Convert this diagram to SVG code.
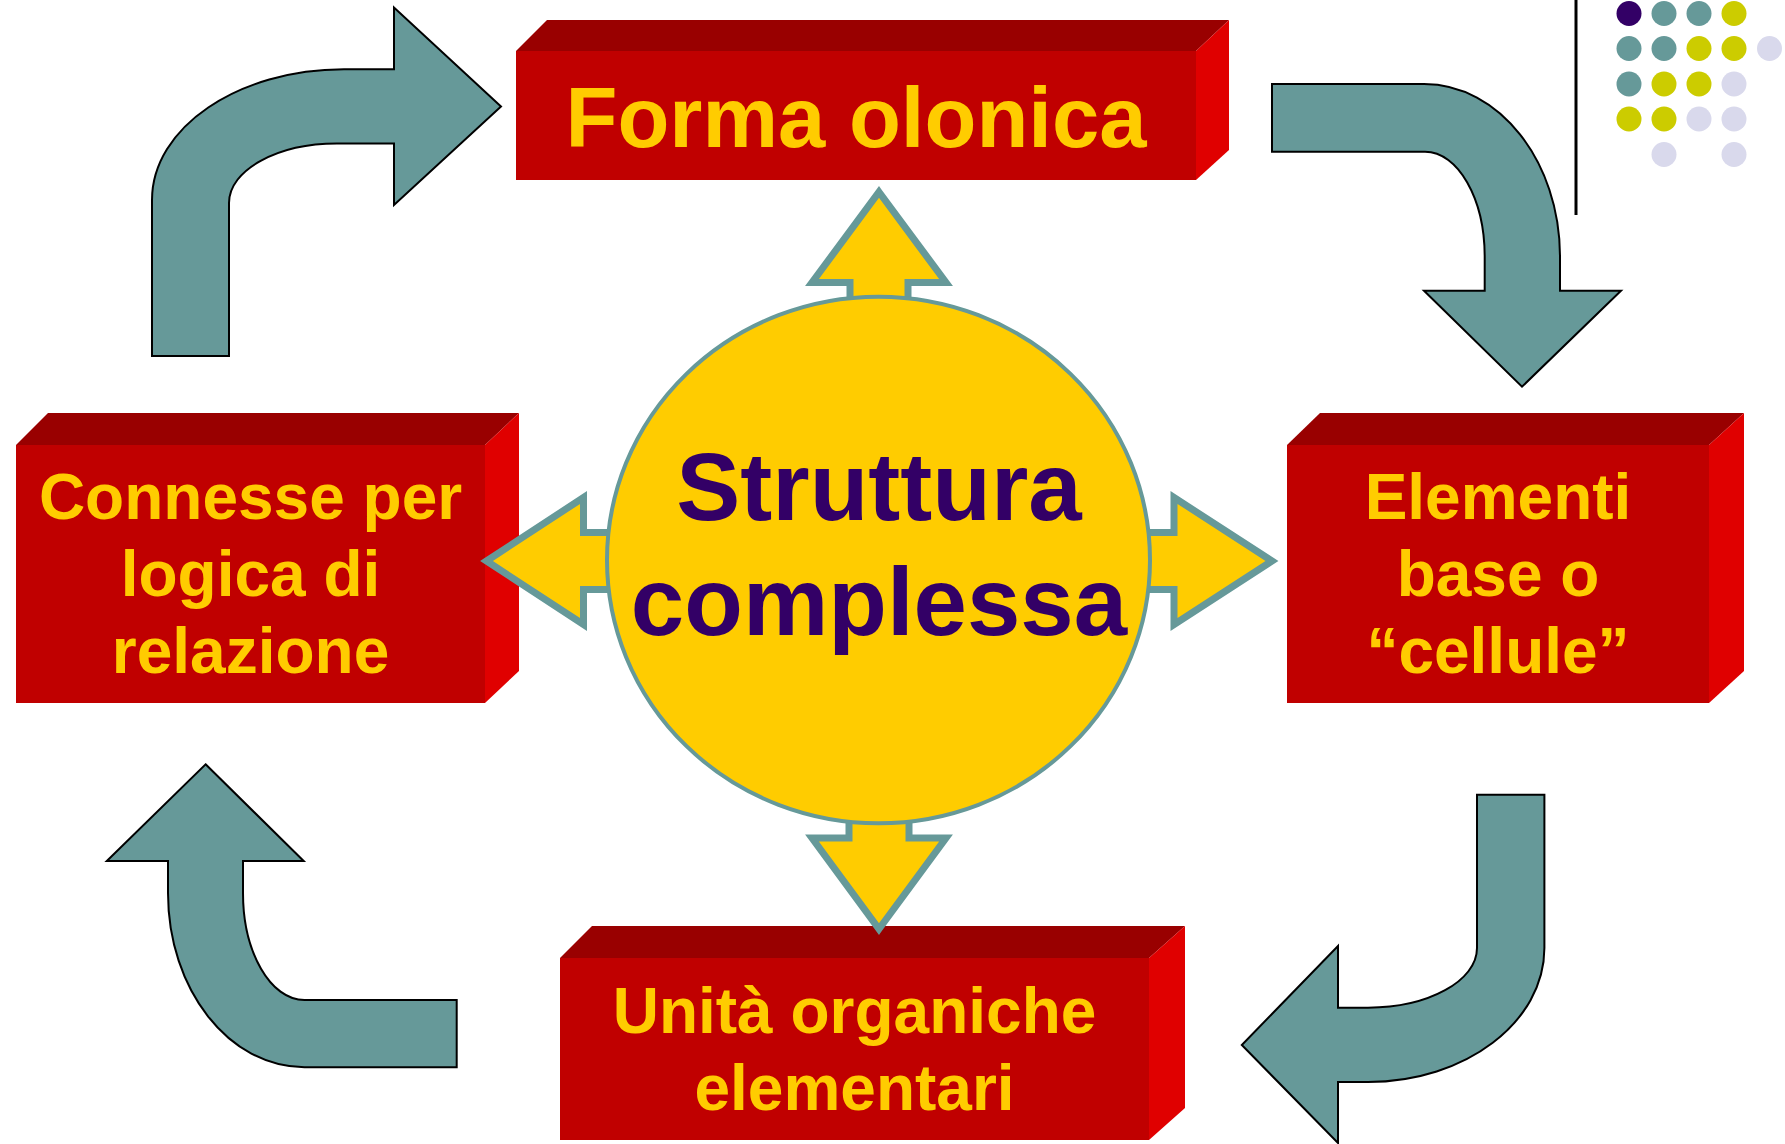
<svg xmlns="http://www.w3.org/2000/svg" width="1785" height="1144" viewBox="0 0 1785 1144">
<style>
.front{fill:#C00000}
.top{fill:#990000}
.side{fill:#E00000}
.lbl{font-family:"Liberation Sans",Arial,sans-serif;font-weight:bold;fill:#FFCC00;text-anchor:middle}
.ctr{font-family:"Liberation Sans",Arial,sans-serif;font-weight:bold;fill:#330066;text-anchor:middle;font-size:96px}
.bent{fill:#669999;stroke:#000;stroke-width:2;stroke-linejoin:miter}
.yarr{fill:#FFCC00;stroke:#669999;stroke-width:7;stroke-linejoin:miter}
</style>
<rect width="1785" height="1144" fill="#fff"/>

<g id="decor">
<line x1="1576" y1="0" x2="1576" y2="215" stroke="#000" stroke-width="3"/>
<g id="dots">
<circle cx="1629" cy="13.5" r="12.5" fill="#330066"/>
<circle cx="1664" cy="13.5" r="12.5" fill="#669999"/>
<circle cx="1699" cy="13.5" r="12.5" fill="#669999"/>
<circle cx="1734" cy="13.5" r="12.5" fill="#CCCC00"/>
<circle cx="1629" cy="48.5" r="12.5" fill="#669999"/>
<circle cx="1664" cy="48.5" r="12.5" fill="#669999"/>
<circle cx="1699" cy="48.5" r="12.5" fill="#CCCC00"/>
<circle cx="1734" cy="48.5" r="12.5" fill="#CCCC00"/>
<circle cx="1769.5" cy="48.5" r="12.5" fill="#D9D9EC"/>
<circle cx="1629" cy="84" r="12.5" fill="#669999"/>
<circle cx="1664" cy="84" r="12.5" fill="#CCCC00"/>
<circle cx="1699" cy="84" r="12.5" fill="#CCCC00"/>
<circle cx="1734" cy="84" r="12.5" fill="#D9D9EC"/>
<circle cx="1629" cy="119" r="12.5" fill="#CCCC00"/>
<circle cx="1664" cy="119" r="12.5" fill="#CCCC00"/>
<circle cx="1699" cy="119" r="12.5" fill="#D9D9EC"/>
<circle cx="1734" cy="119" r="12.5" fill="#D9D9EC"/>
<circle cx="1664" cy="154.5" r="12.5" fill="#D9D9EC"/>
<circle cx="1734" cy="154.5" r="12.5" fill="#D9D9EC"/>
</g>
</g>

<g id="forma">
<polygon class="top" points="516,51 547,20 1229,20 1196,51"/>
<polygon class="side" points="1196,51 1229,20 1229,150 1196,180"/>
<rect class="front" x="516" y="51" width="680" height="129"/>
<text class="lbl" x="856" y="147" font-size="85">Forma olonica</text>
</g>

<g id="connesse">
<polygon class="top" points="16,445 48,413 519,413 485,445"/>
<polygon class="side" points="485,445 519,413 519,671 485,703"/>
<rect class="front" x="16" y="445" width="469" height="258"/>
<text class="lbl" font-size="64"><tspan x="250.5" y="519">Connesse per</tspan><tspan x="250.5" y="596">logica di</tspan><tspan x="250.5" y="673">relazione</tspan></text>
</g>

<g id="elementi">
<polygon class="top" points="1287,445 1320,413 1744,413 1709,445"/>
<polygon class="side" points="1709,445 1744,413 1744,671 1709,703"/>
<rect class="front" x="1287" y="445" width="422" height="258"/>
<text class="lbl" font-size="64"><tspan x="1498" y="519">Elementi</tspan><tspan x="1498" y="596">base o</tspan><tspan x="1498" y="673">“cellule”</tspan></text>
</g>

<g id="unita">
<polygon class="top" points="560,958 592,926 1185,926 1149,958"/>
<polygon class="side" points="1149,958 1185,926 1185,1108 1149,1140"/>
<rect class="front" x="560" y="958" width="589" height="182"/>
<text class="lbl" font-size="64"><tspan x="854.5" y="1033">Unità organiche</tspan><tspan x="854.5" y="1110">elementari</tspan></text>
</g>

<g id="connectors">
<path class="bent" d="M152,356 L152,200 C152,127.6 238,69.3 344,69.3 L394,69.3 L394,7.5 L501,106.5 L394,205 L394,143.5 L337,143.5 C277.4,143.5 229,169.9 229,203 L229,356 Z"/>
<path class="bent" d="M1272,84 L1424,84 C1499.1,84 1560,161.3 1560,256.7 L1560,290.7 L1621,290.7 L1522,386.7 L1424,290.7 L1484.7,290.7 L1484.7,256.7 C1484.7,198.7 1458,151.7 1425,151.7 L1272,151.7 Z"/>
<path class="bent" d="M1477,794.7 L1544.4,794.7 L1544.4,948 C1544.4,1022 1465.4,1082 1368,1082 L1338,1082 L1338,1143 L1241.8,1045 L1338,946 L1338,1007.7 L1368,1007.7 C1428.2,1007.7 1477,981 1477,948 Z"/>
<path class="bent" d="M205.6,764.3 L303.7,861 L243,861 L243,893 C243,952.1 270.5,1000 304.5,1000 L456.7,1000 L456.7,1067.3 L304.5,1067.3 C229.1,1067.3 168,989.3 168,893 L168,861 L106.8,861 Z"/>

<path class="yarr" d="M879,192 L946,282.5 L908,282.5 L908,340 L850,340 L850,282.5 L812,282.5 Z"/>
<path class="yarr" d="M879,929 L946,838 L909,838 L909,780 L849,780 L849,838 L812,838 Z"/>
<path class="yarr" d="M486.5,561 L583.5,497.5 L583.5,532.5 L640,532.5 L640,589.5 L583.5,589.5 L583.5,624.5 Z"/>
<path class="yarr" d="M1272,561 L1174,497.5 L1174,532.5 L1120,532.5 L1120,589.5 L1174,589.5 L1174,624.5 Z"/>
</g>

<g id="center">
<ellipse cx="878.5" cy="560" rx="271.5" ry="263.3" fill="#FFCC00" stroke="#669999" stroke-width="4"/>
<text class="ctr" x="879" y="520">Struttura</text>
<text class="ctr" x="879" y="635">complessa</text>
</g>
</svg>
